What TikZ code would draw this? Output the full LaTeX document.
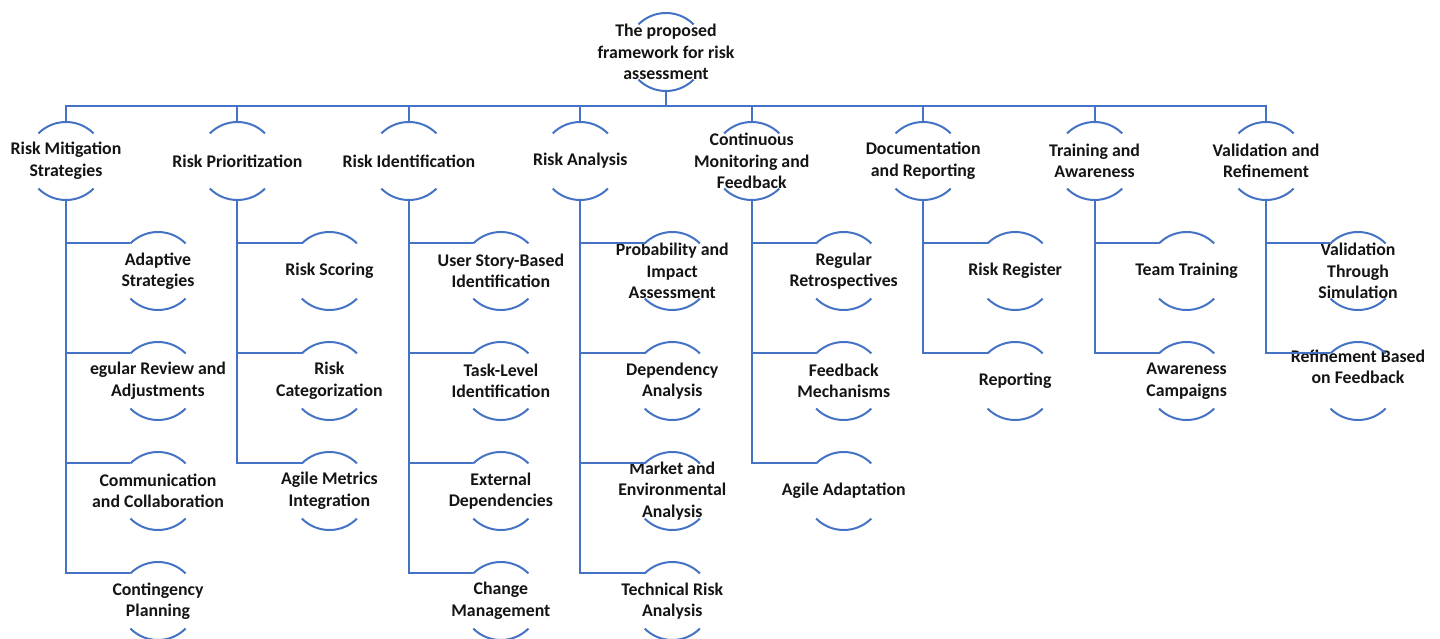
\documentclass[tikz,border=0pt]{standalone}
\usepackage{fontspec}
\setmainfont{Carlito}
\usetikzlibrary{positioning}
\definecolor{frameblue}{HTML}{4472C4}

\begin{document}
\begin{tikzpicture}[x=1pt,y=1pt,node distance=110pt,on grid,
    ring/.style={circle,minimum size=78pt,inner sep=0pt,outer sep=0pt},
    txt/.style={align=center,text=black!92,font=\bfseries\fontsize{17.8}{21.5}\selectfont},
    link/.style={draw=frameblue,line width=2pt}]
    \useasboundingbox (0,0) rectangle (1440,-639);

    % top of the tree
    \node[ring, label={[txt]center:{The proposed\\framework for risk\\assessment}}] (top) at (666,-52) {};
    \coordinate (bus) at (666,-106);

    % first level
    \node[ring, label={[txt]center:{Risk Mitigation\\Strategies}}] (b1) at (66,-161) {};
    \node[ring, label={[txt]center:{Risk Prioritization}}] (b2) [right=171.43pt of b1] {};
    \node[ring, label={[txt]center:{Risk Identification}}] (b3) [right=171.43pt of b2] {};
    \node[ring, label={[txt]center:{Risk Analysis}}] (b4) [right=171.43pt of b3] {};
    \node[ring, label={[txt]center:{Continuous\\Monitoring and\\Feedback}}] (b5) [right=171.43pt of b4] {};
    \node[ring, label={[txt]center:{Documentation\\and Reporting}}] (b6) [right=171.43pt of b5] {};
    \node[ring, label={[txt]center:{Training and\\Awareness}}] (b7) [right=171.43pt of b6] {};
    \node[ring, label={[txt]center:{Validation and\\Refinement}}] (b8) [right=171.43pt of b7] {};

    % second level
    \node[ring, label={[txt]center:{Adaptive\\Strategies}}] (b1a) [below right=110pt and 92pt of b1] {};
    \node[ring, label={[txt]center:{egular Review and\\Adjustments}}] (b1b) [below=of b1a] {};
    \node[ring, label={[txt]center:{Communication\\and Collaboration}}] (b1c) [below=of b1b] {};
    \node[ring, label={[txt]center:{Contingency\\Planning}}] (b1d) [below=of b1c] {};

    \node[ring, label={[txt]center:{Risk Scoring}}] (b2a) [below right=110pt and 92pt of b2] {};
    \node[ring, label={[txt]center:{Risk\\Categorization}}] (b2b) [below=of b2a] {};
    \node[ring, label={[txt]center:{Agile Metrics\\Integration}}] (b2c) [below=of b2b] {};

    \node[ring, label={[txt]center:{User Story-Based\\Identification}}] (b3a) [below right=110pt and 92pt of b3] {};
    \node[ring, label={[txt]center:{Task-Level\\Identification}}] (b3b) [below=of b3a] {};
    \node[ring, label={[txt]center:{External\\Dependencies}}] (b3c) [below=of b3b] {};
    \node[ring, label={[txt]center:{Change\\Management}}] (b3d) [below=of b3c] {};

    \node[ring, label={[txt]center:{Probability and\\Impact\\Assessment}}] (b4a) [below right=110pt and 92pt of b4] {};
    \node[ring, label={[txt]center:{Dependency\\Analysis}}] (b4b) [below=of b4a] {};
    \node[ring, label={[txt]center:{Market and\\Environmental\\Analysis}}] (b4c) [below=of b4b] {};
    \node[ring, label={[txt]center:{Technical Risk\\Analysis}}] (b4d) [below=of b4c] {};

    \node[ring, label={[txt]center:{Regular\\Retrospectives}}] (b5a) [below right=110pt and 92pt of b5] {};
    \node[ring, label={[txt]center:{Feedback\\Mechanisms}}] (b5b) [below=of b5a] {};
    \node[ring, label={[txt]center:{Agile Adaptation}}] (b5c) [below=of b5b] {};

    \node[ring, label={[txt]center:{Risk Register}}] (b6a) [below right=110pt and 92pt of b6] {};
    \node[ring, label={[txt]center:{Reporting}}] (b6b) [below=of b6a] {};

    \node[ring, label={[txt]center:{Team Training}}] (b7a) [below right=110pt and 92pt of b7] {};
    \node[ring, label={[txt]center:{Awareness\\Campaigns}}] (b7b) [below=of b7a] {};

    \node[ring, label={[txt]center:{Validation\\Through\\Simulation}}] (b8a) [below right=110pt and 92pt of b8] {};
    \node[ring, label={[txt,yshift=14pt]center:{Refinement Based\\on Feedback}}] (b8b) [below=of b8a] {};

    % half rings
    \foreach \n in {top,b1,b2,b3,b4,b5,b6,b7,b8,
                    b1a,b1b,b1c,b1d,b2a,b2b,b2c,b3a,b3b,b3c,b3d,
                    b4a,b4b,b4c,b4d,b5a,b5b,b5c,b6a,b6b,b7a,b7b,b8a,b8b}
        \draw[link] (\n.45) arc[start angle=45,end angle=135,radius=39pt]
                    (\n.225) arc[start angle=225,end angle=315,radius=39pt];

    % connectors
    \draw[link] (top.south) -- (bus);
    \draw[link] (b1.north) -- (b1.north |- bus) -- (b8.north |- bus) -- (b8.north);
    \foreach \n in {b2,b3,b4,b5,b6,b7}
        \draw[link] (\n.north) -- (\n.north |- bus);
    \foreach \n/\k in {b1/b1a,b1/b1b,b1/b1c,b1/b1d,b2/b2a,b2/b2b,b2/b2c,
                       b3/b3a,b3/b3b,b3/b3c,b3/b3d,b4/b4a,b4/b4b,b4/b4c,b4/b4d,
                       b5/b5a,b5/b5b,b5/b5c,b6/b6a,b6/b6b,b7/b7a,b7/b7b,b8/b8a,b8/b8b}
        \draw[link] (\n.south) |- (\k.135);
\end{tikzpicture}
\end{document}
